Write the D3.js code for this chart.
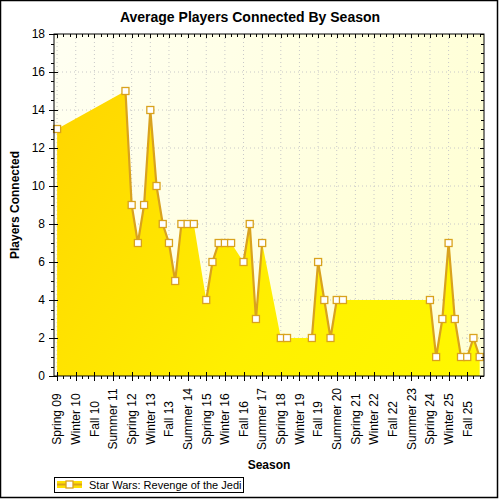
<!DOCTYPE html>
<html><head><meta charset="utf-8">
<script src="https://cdn.jsdelivr.net/npm/d3@7"></script>
<style>body{margin:0;background:#fff}svg{display:block;font-family:"Liberation Sans",Arial,sans-serif}</style>
</head><body><svg id="c" width="500" height="500"></svg>
<script>
const seasonOrder = ["Winter","Spring","Summer","Fall"];
const pointSeasons = ["Spring 09","Winter 12","Spring 12","Summer 12","Fall 12","Winter 13","Spring 13","Summer 13","Fall 13","Winter 14","Spring 14","Summer 14","Fall 14",
  "Spring 15","Summer 15","Fall 15","Winter 16","Spring 16",
  "Fall 16","Winter 17","Spring 17","Summer 17",
  "Spring 18","Summer 18",
  "Summer 19","Fall 19","Winter 20","Spring 20","Summer 20","Fall 20",
  "Spring 24","Summer 24","Fall 24","Winter 25","Spring 25","Summer 25","Fall 25","Winter 26","Spring 26"];
const playerValues = [13,15,9,7,9,14,10,8,7,5,8,8,8,
  4,6,7,7,7,
  6,8,3,7,
  2,2,
  2,6,4,2,4,4,
  4,1,3,7,3,1,1,2,1];
const tickLabels = ["Spring 09","Winter 10","Fall 10","Summer 11","Spring 12","Winter 13","Fall 13","Summer 14","Spring 15","Winter 16","Fall 16","Summer 17","Spring 18","Winter 19","Fall 19","Summer 20","Spring 21","Winter 22","Fall 22","Summer 23","Spring 24","Winter 25","Fall 25"];
const yTicks = [0,2,4,6,8,10,12,14,16,18];
const seriesName = "Star Wars: Revenge of the Jedi";
const chartTitle = "Average Players Connected By Season";
const xTitle = "Season", yTitle = "Players Connected";

function seasonIndex(name){ const [s,yy]=name.split(" "); return (+yy)*4 + seasonOrder.indexOf(s) - (9*4+1); }

const data = pointSeasons.map((s,i)=>({i:seasonIndex(s), v:playerValues[i]}));
const maxIdx = d3.max(data,d=>d.i);
// full series with gaps for line
const full = d3.range(0,maxIdx+1).map(i=>{const d=data.find(e=>e.i===i);return d?d:{i:i,v:null};});

const L=54,R=484,T=34,B=376;
const x=d3.scaleLinear().domain([-0.5,68.7]).range([L,R]);
const y=d3.scaleLinear().domain([0,18]).range([B,T]);
const svg=d3.select("#c");
const defs=svg.append("defs");
const bg=defs.append("linearGradient").attr("id","bg").attr("x1","0").attr("y1","0").attr("x2","1").attr("y2","0.3");
bg.append("stop").attr("offset","0").attr("stop-color","#FFFFF2");
bg.append("stop").attr("offset","1").attr("stop-color","#FFFFD6");
const ag=defs.append("linearGradient").attr("id","ag").attr("gradientUnits","userSpaceOnUse")
  .attr("x1",L).attr("y1",T+40).attr("x2",R).attr("y2",B);
ag.append("stop").attr("offset","0").attr("stop-color","#FFD400");
ag.append("stop").attr("offset","0.6").attr("stop-color","#FFF000");
ag.append("stop").attr("offset","1").attr("stop-color","#FFF800");

svg.append("rect").attr("x",0.5).attr("y",0.5).attr("width",497).attr("height",497).attr("fill","#fff").attr("stroke","#000").attr("stroke-width",1.5);
svg.append("rect").attr("x",L).attr("y",T).attr("width",R-L).attr("height",B-T).attr("fill","url(#bg)");

// grid
const g=svg.append("g");
g.selectAll(".gy").data(yTicks.filter(t=>t>0&&t<18)).join("line").attr("x1",L).attr("x2",R).attr("y1",d=>y(d)).attr("y2",d=>y(d))
  .attr("stroke","#c8c8c8").attr("stroke-dasharray","1,3");
g.selectAll(".gx").data(tickLabels).join("line").attr("x1",d=>x(seasonIndex(d))).attr("x2",d=>x(seasonIndex(d))).attr("y1",T).attr("y2",B)
  .attr("stroke","#c8c8c8").attr("stroke-dasharray","1,3");

// area
svg.append("path").datum(data).attr("fill","url(#ag)")
  .attr("d",d3.area().x(d=>x(d.i)).y0(y(0)).y1(d=>y(d.v)));
// line
svg.append("path").datum(full).attr("fill","none").attr("stroke","#D9A21E").attr("stroke-width",2.2)
  .attr("d",d3.line().defined(d=>d.v!==null).x(d=>x(d.i)).y(d=>y(d.v)));
// markers
svg.selectAll(".m").data(data).join("rect").attr("x",d=>x(d.i)-3.5).attr("y",d=>y(d.v)-3.5).attr("width",7).attr("height",7)
  .attr("fill","#fff").attr("stroke","#D9A21E").attr("stroke-width",1.3);

// axes frame
svg.append("rect").attr("x",L).attr("y",T).attr("width",R-L).attr("height",B-T).attr("fill","none").attr("stroke","#000").attr("stroke-width",1);
const ax=svg.append("g").attr("stroke","#000").attr("stroke-width",1);
const minorY=d3.range(0,18.01,0.5);
minorY.forEach(v=>{
  const major = v%2===0;
  const yy=Math.round(y(v))+0.5;
  ax.append("line").attr("x1",L-(major?5:3)).attr("x2",L+(major?4:0)).attr("y1",yy).attr("y2",yy);
  ax.append("line").attr("x1",R-(major?4:3)).attr("x2",R).attr("y1",yy).attr("y2",yy);
});
const majorX=new Set(tickLabels.map(seasonIndex));
d3.range(0,69).forEach(i=>{
  const xx=Math.round(x(i))+0.5, major=majorX.has(i);
  ax.append("line").attr("x1",xx).attr("x2",xx).attr("y1",B-(major?4:0)).attr("y2",B+(major?5:3));
  ax.append("line").attr("x1",xx).attr("x2",xx).attr("y1",T).attr("y2",T+(major?4:3));
});
// y labels
svg.selectAll(".yl").data(yTicks).join("text").attr("x",L-9).attr("y",d=>y(d)).attr("dy","0.36em").attr("text-anchor","end")
  .attr("font-size",12).attr("fill","#000").text(d=>d);
// x labels
svg.selectAll(".xl").data(tickLabels).join("text")
  .attr("transform",d=>`translate(${x(seasonIndex(d))},419) rotate(-90)`).attr("dy","0.36em").attr("text-anchor","middle")
  .attr("font-size",12).attr("fill","#000").text(d=>d);
// titles
svg.append("text").attr("x",250).attr("y",22).attr("text-anchor","middle").attr("font-size",14).attr("font-weight","bold").text(chartTitle);
svg.append("text").attr("x",(L+R)/2).attr("y",469).attr("text-anchor","middle").attr("font-size",12).attr("font-weight","bold").text(xTitle);
svg.append("text").attr("transform",`translate(19,${(T+B)/2}) rotate(-90)`).attr("text-anchor","middle").attr("font-size",12).attr("font-weight","bold").text(yTitle);
// legend
const lg=svg.append("g");
lg.append("rect").attr("x",54.5).attr("y",477.5).attr("width",189).attr("height",15).attr("fill","#fff").attr("stroke","#000");
lg.append("rect").attr("x",57).attr("y",481).attr("width",25).attr("height",7).attr("fill","#FFE000");
lg.append("line").attr("x1",57).attr("x2",82).attr("y1",484.5).attr("y2",484.5).attr("stroke","#D9A21E").attr("stroke-width",2);
lg.append("rect").attr("x",66).attr("y",481).attr("width",7).attr("height",7).attr("fill","#fff").attr("stroke","#D9A21E").attr("stroke-width",1.3);
lg.append("text").attr("x",89).attr("y",489).attr("font-size",11).text(seriesName);
</script></body></html>
